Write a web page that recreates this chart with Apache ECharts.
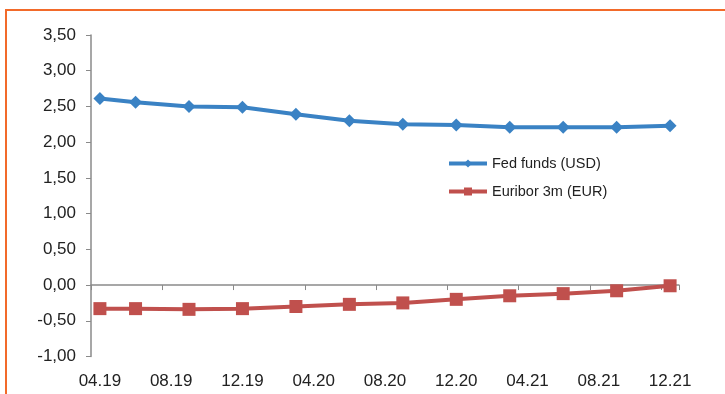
<!DOCTYPE html>
<html>
<head>
<meta charset="utf-8">
<script src="https://cdn.jsdelivr.net/npm/echarts@6/dist/echarts.min.js"></script>
<style>
  html, body { margin: 0; padding: 0; background: #fff; }
  #chart { width: 725px; height: 394px; }
</style>
</head>
<body>
<div id="chart"></div>
<script>
// Observation months (MM.YY) and interest rates, in percent
const obsMonths = ['04.19', '06.19', '09.19', '12.19', '03.20', '06.20', '09.20', '12.20', '03.21', '06.21', '09.21', '12.21'];
const fedFunds  = [2.61, 2.56, 2.50, 2.49, 2.39, 2.30, 2.25, 2.24, 2.21, 2.21, 2.21, 2.23];
const euribor3m = [-0.33, -0.33, -0.34, -0.33, -0.30, -0.27, -0.25, -0.20, -0.15, -0.12, -0.08, -0.01];
const seriesNames = ['Fed funds (USD)', 'Euribor 3m (EUR)'];

// Monthly date axis from 04.19 to 12.21
const axisMonths = [];
for (let y = 2019, m = 4; y < 2021 || (y === 2021 && m <= 12); ) {
  axisMonths.push(String(m).padStart(2, '0') + '.' + String(y % 100));
  m++;
  if (m > 12) { m = 1; y++; }
}

const pairs = vals => obsMonths.map((d, i) => [d, vals[i]]);
const axisGrey = '#8a8a8a';
const textColor = '#222';
const font = 'Liberation Sans, Arial, sans-serif';

const chart = echarts.init(document.getElementById('chart'), null, { renderer: 'canvas' });
chart.setOption({
  animation: false,
  backgroundColor: '#fff',
  textStyle: { fontFamily: font },
  graphic: [
    { type: 'line', shape: { x1: 5, y1: 10, x2: 725, y2: 10 }, style: { stroke: '#f26a2a', lineWidth: 2 } },
    { type: 'line', shape: { x1: 6, y1: 9, x2: 6, y2: 394 }, style: { stroke: '#f26a2a', lineWidth: 2 } }
  ],
  grid: { left: 91, right: 46, top: 35, bottom: 37.5 },
  legend: {
    orient: 'vertical',
    left: 442,
    top: 151,
    itemWidth: 38,
    itemHeight: 10,
    itemGap: 13,
    lineStyle: { width: 4 },
    textStyle: { fontSize: 14.5, color: textColor, fontFamily: font },
    data: seriesNames
  },
  xAxis: [
    {
      type: 'category',
      data: axisMonths,
      boundaryGap: true,
      position: 'bottom',
      axisLine: { show: false, onZero: false },
      axisTick: { show: false },
      axisLabel: { interval: 3, fontSize: 17, color: textColor, margin: 16, fontFamily: font },
      splitLine: { show: false }
    },
    {
      type: 'category',
      data: axisMonths,
      boundaryGap: true,
      position: 'bottom',
      axisLine: { show: true, onZero: true, onZeroAxisIndex: 0, lineStyle: { color: axisGrey, width: 1.5 } },
      axisTick: { show: true, interval: 3, length: 5, lineStyle: { color: axisGrey } },
      axisLabel: { show: false },
      splitLine: { show: false }
    }
  ],
  yAxis: {
    type: 'value',
    min: -1,
    max: 3.5,
    interval: 0.5,
    axisLine: { show: true, lineStyle: { color: axisGrey, width: 1.5 } },
    axisTick: { show: true, length: 5, lineStyle: { color: axisGrey } },
    axisLabel: {
      fontSize: 17,
      color: textColor,
      margin: 15,
      fontFamily: font,
      formatter: v => v.toFixed(2).replace('.', ',')
    },
    splitLine: { show: false }
  },
  series: [
    {
      name: seriesNames[0],
      type: 'line',
      xAxisIndex: 0,
      data: pairs(fedFunds),
      showAllSymbol: true,
      symbol: 'diamond',
      symbolSize: 13,
      itemStyle: { color: '#3a82c4' },
      lineStyle: { color: '#3a82c4', width: 4 }
    },
    {
      name: seriesNames[1],
      type: 'line',
      xAxisIndex: 0,
      data: pairs(euribor3m),
      showAllSymbol: true,
      symbol: 'rect',
      symbolSize: 13,
      itemStyle: { color: '#c0504d' },
      lineStyle: { color: '#c0504d', width: 4 }
    }
  ]
});
</script>
</body>
</html>
